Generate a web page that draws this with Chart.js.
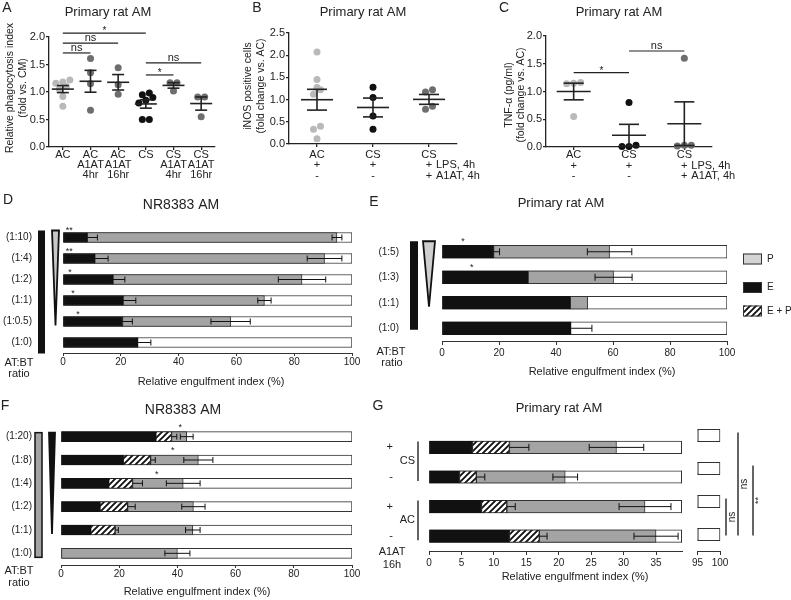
<!DOCTYPE html>
<html>
<head>
<meta charset="utf-8">
<title>A1AT and alveolar macrophage efferocytosis</title>
<script src="https://cdn.jsdelivr.net/npm/chart.js@4.4.1/dist/chart.umd.min.js"></script>
<style>
  body { margin: 0; background: #fff; }
  #fig { position: relative; width: 791px; height: 600px; overflow: hidden; background: #fff; }
  #fig canvas { position: absolute; }
</style>
</head>
<body>
<div id="fig"></div>
<script>
// ---------- A: relative phagocytosis index (primary rat AM) ----------
const groupsA = [['AC'], ['AC', 'A1AT', '4hr'], ['AC', 'A1AT', '16hr'], ['CS'], ['CS', 'A1AT', '4hr'], ['CS', 'A1AT', '16hr']];
const pointsA = [
  [1.22, 1.18, 1.16, 1.10, 1.05, 0.92, 0.74],
  [1.61, 1.35, 1.15, 0.67],
  [1.44, 1.13, 0.96],
  [0.98, 0.95, 0.90, 0.85, 0.80, 0.50, 0.50],
  [1.17, 1.17, 1.02],
  [0.91, 0.91, 0.55]
];
const colorsA = ['#b9b9b9', '#6e6e6e', '#6e6e6e', '#111', '#6e6e6e', '#6e6e6e'];
const ticksA = [0, 0.5, 1, 1.5, 2];
const sigA = [[1, 4, 2.07, '*'], [1, 3, 1.89, 'ns'], [1, 2, 1.71, 'ns'], [4, 6, 1.53, 'ns'], [4, 5, 1.31, '*']];

// ---------- B: iNOS positive cells ----------
const groupsBC = [['AC', '+', '-'], ['CS', '+', '-'], ['CS', '+', '+']];
const rowNamesBC = ['LPS, 4h', 'A1AT, 4h'];
const colorsBC = ['#b9b9b9', '#111', '#6e6e6e'];
const pointsB = [[2.07, 1.45, 1.27, 1.22, 1.12, 0.40, 0.33, 0.12], [1.28, 1.05, 0.63, 0.33], [1.22, 1.17, 0.85, 0.78]];
const ticksB = [0, 0.5, 1, 1.5, 2, 2.5];

// ---------- C: TNF-a ----------
const pointsC = [[1.16, 1.15, 1.14, 0.55], [0.80, 0.03, 0.01, 0.01], [1.60, 0.03, 0.02, 0.03]];
const sigC = [[1, 2, 1.34, '*'], [2, 3, 1.73, 'ns']];

// ---------- engulfment panels ----------
const ticksPct = [0, 20, 40, 60, 80, 100];
const FULL = 100;

// D: NR8383, E = engulfed, tot = E + P
const ratiosD = ['(1:10)', '(1:4)', '(1:2)', '(1:1)', '(1:0.5)', '(1:0)'];
const eD = [8.4, 11.0, 17.3, 20.8, 20.6, 26.0];
const eErrD = [3.5, 4.6, 4.1, 4.4, 3.4, 4.4];
const totD = [94.8, 90.5, 82.7, 69.7, 58.0, null];
const totErrD = [1.7, 6.0, 8.2, 2.3, 6.8, null];
const starsD = ['**', '**', '*', '*', '*', ''];
const starXD = [2.2, 2.2, 2.4, 3.5, 5.2, null];

// E: primary rat AM
const ratiosE = ['(1:5)', '(1:3)', '(1:1)', '(1:0)'];
const eE = [18.1, 30.2, 45.0, 45.3];
const eErrE = [2.1, null, null, 7.3];
const totE = [58.8, 60.2, 51.1, null];
const totErrE = [7.8, 6.5, null, null];
const starsE = ['*', '*', '', ''];
const starXE = [7.4, 10.4, null, null];
const legendE = ['P', 'E', 'E + P'];

// F: NR8383, ep = E + (E+P)
const ratiosF = ['(1:20)', '(1:8)', '(1:4)', '(1:2)', '(1:1)', '(1:0)'];
const eF = [32.6, 21.4, 16.4, 13.4, 10.2, null];
const epF = [38.0, 30.8, 24.6, 22.9, 18.6, null];
const epErrF = [1.8, 1.6, 3.4, 2.6, 1.1, null];
const totF = [43.2, 47.2, 42.0, 45.5, 45.3, 40.0];
const totErrF = [2.2, 5.0, 5.8, 4.0, 2.5, 4.3];
const starsF = ['*', '*', '*', '', '', ''];
const starXF = [41.0, 38.4, 32.9, null, null, null];

// G: primary rat AM, broken axis
const signsG = ['+', '-', '+', '-'];
const groupsG = [['CS', 0, 1], ['AC', 2, 3]];
const eG = [6.7, 4.7, 8.1, 12.4];
const epG = [12.4, 7.3, 12.0, 17.0];
const epErrG = [3.0, 1.3, 1.3, 1.2];
const totG = [28.9, 21.0, 33.3, 35.0];
const totErrG = [4.2, 1.9, 4.0, 3.4];
const ticksG = [0, 5, 10, 15, 20, 25, 30, 35];
const ticksGR = [95, 100];
const breakG = 39;
const sigG = [[3, 4, 'ns'], [1, 4, 'ns'], [2, 4, '**']];

// ---------- helpers ----------
const FONT = "'Liberation Sans', Arial, sans-serif";
const INK = '#222';
const GRAY = '#a4a4a4';
Chart.defaults.font.family = FONT;
Chart.defaults.color = INK;

const fig = document.getElementById('fig');

function addCanvas(x, y, w, h) {
  const c = document.createElement('canvas');
  c.width = w; c.height = h;
  c.style.left = x + 'px'; c.style.top = y + 'px';
  c.style.width = w + 'px'; c.style.height = h + 'px';
  fig.appendChild(c);
  return c;
}

function txt(ctx, s, x, y, size, align = 'center', rot = 0) {
  ctx.save();
  ctx.translate(x, y);
  if (rot) ctx.rotate(rot * Math.PI / 180);
  ctx.font = size + 'px ' + FONT;
  ctx.fillStyle = INK;
  ctx.textAlign = align;
  ctx.textBaseline = 'middle';
  ctx.fillText(s, 0, 0);
  ctx.restore();
}

function seg(ctx, x0, y0, x1, y1) {
  ctx.beginPath(); ctx.moveTo(x0, y0); ctx.lineTo(x1, y1); ctx.stroke();
}

function wedge(ctx, x0, x1, top, tip, fill) {
  ctx.beginPath();
  ctx.moveTo(x0, top); ctx.lineTo(x1, top); ctx.lineTo((x0 + x1) / 2, tip); ctx.closePath();
  ctx.fillStyle = fill; ctx.fill();
  ctx.lineWidth = 1.8; ctx.strokeStyle = '#111'; ctx.stroke();
}

function hatchPattern() {
  const c = document.createElement('canvas');
  c.width = 6; c.height = 6;
  const g = c.getContext('2d');
  g.fillStyle = '#fff'; g.fillRect(0, 0, 6, 6);
  g.strokeStyle = '#111'; g.lineWidth = 1.9;
  g.beginPath();
  g.moveTo(-1, 7); g.lineTo(7, -1);
  g.moveTo(-4, 4); g.lineTo(4, -4);
  g.moveTo(2, 10); g.lineTo(10, 2);
  g.stroke();
  return g.createPattern(c, 'repeat');
}
const HATCH = hatchPattern();

const mean = a => a.reduce((s, v) => s + v, 0) / a.length;
const sem = a => {
  const m = mean(a);
  return Math.sqrt(a.reduce((s, v) => s + (v - m) ** 2, 0) / (a.length - 1) / a.length);
};

// spread dots of one group sideways so close values don't hide each other
function swarm(vals, c, pxX, pxY) {
  const d = 7;
  const rows = [];
  vals.slice().sort((a, b) => a - b).forEach(v => {
    const row = rows[rows.length - 1];
    if (row && (v - row[0]) * pxY < d * 0.8) row.push(v); else rows.push([v]);
  });
  const out = [];
  rows.forEach(row => row.forEach((v, k) => out.push({x: c + (k - (row.length - 1) / 2) * d / pxX, y: v})));
  return out;
}

function textLayer(ox, oy, items, drawPage) {
  return {
    id: 'textLayer',
    afterDraw(chart) {
      const ctx = chart.ctx;
      ctx.save();
      ctx.translate(-ox, -oy);
      if (drawPage) drawPage(ctx);
      items.forEach(it => txt(ctx, ...it));
      ctx.restore();
    }
  };
}

// dot plot with mean +/- SEM
function dotPanel(p) {
  const [bx, by, bw, bh] = p.box;
  const [l, t, r, b] = p.area;
  const n = p.points.length;
  const pxX = (r - l) / n, pxY = (b - t) / p.yMax;
  const cv = addCanvas(bx, by, bw, bh);
  const stats = {
    id: 'meanSem',
    afterDatasetsDraw(chart) {
      const {ctx, scales: {x, y}} = chart;
      ctx.save();
      ctx.strokeStyle = INK; ctx.lineWidth = 1.6;
      p.points.forEach((vals, i) => {
        const cx = x.getPixelForValue(i + 1);
        const m = mean(vals), se = sem(vals);
        const ym = y.getPixelForValue(m), y0 = y.getPixelForValue(m - se), y1 = y.getPixelForValue(m + se);
        seg(ctx, cx - p.meanHalf, ym, cx + p.meanHalf, ym);
        seg(ctx, cx, y0, cx, y1);
        seg(ctx, cx - p.capHalf, y0, cx + p.capHalf, y0);
        seg(ctx, cx - p.capHalf, y1, cx + p.capHalf, y1);
      });
      ctx.lineWidth = 1.2;
      (p.sig || []).forEach(([a, c, v, s]) => {
        const x0 = x.getPixelForValue(a), x1 = x.getPixelForValue(c), yy = y.getPixelForValue(v);
        seg(ctx, x0, yy, x1, yy);
        if (s === '*') txt(ctx, s, (x0 + x1) / 2, yy - 1.5, 10);
        else txt(ctx, s, (x0 + x1) / 2, yy - 5, 11);
      });
      if (p.rowNames) {
        const xl = x.getPixelForValue(n) + 7;
        p.rowNames.forEach((s, k) => txt(ctx, s, xl, x.top + 3 + p.tickPad + p.lh * (k + 1.5), 11, 'left'));
      }
      ctx.restore();
    }
  };
  new Chart(cv, {
    type: 'scatter',
    data: {
      datasets: p.points.map((vals, i) => ({
        data: swarm(vals, i + 1, pxX, pxY),
        backgroundColor: p.colors[i], borderWidth: 0, pointRadius: 3.5, pointHoverRadius: 3.5, clip: false
      }))
    },
    options: {
      responsive: false, animation: false, events: [],
      layout: {padding: {left: 0, top: t - by, right: bx + bw - r, bottom: 0}},
      plugins: {legend: {display: false}, tooltip: {enabled: false}},
      scales: {
        x: {
          type: 'linear', min: 0.5, max: n + 0.5,
          afterBuildTicks: s => { s.ticks = p.groups.map((g, i) => ({value: i + 1})); },
          ticks: {callback: v => p.groups[v - 1], font: {size: 11, lineHeight: p.lh / 11}, padding: p.tickPad,
                  maxRotation: 0, minRotation: 0, autoSkip: false, color: INK},
          grid: {drawOnChartArea: false, tickLength: 3, color: INK, lineWidth: 1.3},
          border: {color: INK, width: 1.3},
          afterFit: s => { s.height = by + bh - b; }
        },
        y: {
          min: 0, max: p.yMax,
          afterBuildTicks: s => { s.ticks = p.yTicks.map(v => ({value: v})); },
          ticks: {callback: v => v.toFixed(1), font: {size: 11}, padding: 1, color: INK},
          grid: {drawOnChartArea: false, tickLength: 3, color: INK, lineWidth: 1.3},
          border: {color: INK, width: 1.3},
          afterFit: s => { s.width = l - bx; }
        }
      }
    },
    plugins: [stats, textLayer(bx, by, p.texts)]
  });
}

// horizontal stacked segments drawn as floating bars over a white 100 % frame
function layers(labels, e, ep, tot, frameClip) {
  const ds = [{data: labels.map(() => FULL), backgroundColor: '#fff', borderColor: '#333', order: 4}];
  if (frameClip) ds[0].clip = frameClip;
  ds.push({data: tot.map((v, i) => v == null ? null : [(ep ? ep[i] : e[i]) ?? 0, v]),
           backgroundColor: GRAY, borderColor: '#333', order: 3});
  if (ep) ds.push({data: ep.map((v, i) => v == null ? null : [e[i], v]),
                   backgroundColor: HATCH, borderColor: '#222', order: 2});
  ds.push({data: e, backgroundColor: '#111', borderColor: '#111', order: 1});
  return ds;
}

function barPanel(p) {
  const [bx, by, bw, bh] = p.box;
  const [l, t, r, b] = p.area;
  const cv = addCanvas(bx, by, bw, bh);
  const yW = p.hideY ? 0 : l - bx;
  const deco = {
    id: 'deco',
    afterDatasetsDraw(chart) {
      const {ctx, scales: {x, y}} = chart;
      ctx.save();
      ctx.strokeStyle = '#111'; ctx.lineWidth = 1;
      (p.errs || []).forEach(([vals, errs, two]) => vals.forEach((v, i) => {
        const e = errs[i];
        if (v == null || e == null) return;
        const yy = y.getPixelForValue(i);
        const x0 = x.getPixelForValue(two ? v - e : v), x1 = x.getPixelForValue(v + e);
        seg(ctx, x0, yy, x1, yy);
        seg(ctx, x1, yy - p.cap, x1, yy + p.cap);
        if (two) seg(ctx, x0, yy - p.cap, x0, yy + p.cap);
      }));
      if (p.stars) p.stars[0].forEach((s, i) => {
        if (s) txt(ctx, s, x.getPixelForValue(p.stars[1][i]), y.getPixelForValue(i) + p.stars[2], 9);
      });
      if (p.draw) p.draw(chart, ctx);
      ctx.restore();
    }
  };
  new Chart(cv, {
    type: 'bar',
    data: {labels: p.labels, datasets: p.datasets},
    options: {
      indexAxis: 'y', responsive: false, animation: false, events: [],
      layout: {padding: {left: l - bx - yW, top: t - by, right: bx + bw - r, bottom: 0}},
      datasets: {bar: {grouped: false, barThickness: p.barH, borderSkipped: false, borderWidth: 1}},
      plugins: {legend: {display: false}, tooltip: {enabled: false}},
      scales: {
        y: {
          type: 'category', grid: {display: false, drawTicks: false}, border: {display: false},
          ticks: {display: !p.hideY, padding: p.yPad || 0, font: {size: p.yFont || 10}, color: INK},
          afterFit: s => { s.width = yW; }
        },
        x: {
          type: 'linear', min: p.xMin, max: p.xMax,
          afterBuildTicks: s => { s.ticks = p.xTicks.map(v => ({value: v})); },
          ticks: {font: {size: 10}, padding: p.tickPad, maxRotation: 0, autoSkip: false, color: INK},
          grid: {drawOnChartArea: false, tickLength: p.tickLen, color: '#333'},
          border: {color: '#333'},
          afterFit: s => { s.height = by + bh - b; }
        }
      }
    },
    plugins: [deco, textLayer(bx, by, p.texts || [], p.drawPage)]
  });
}

// ---------- panels A-C ----------
dotPanel({
  box: [0, 0, 222, 190], area: [49, 37, 215, 147],
  groups: groupsA, points: pointsA, colors: colorsA, yMax: 2, yTicks: ticksA, sig: sigA,
  meanHalf: 11, capHalf: 6, lh: 10, tickPad: 0,
  texts: [['A', 7, 8, 14], ['Primary rat AM', 108, 12, 13],
          ['Relative phagocytosis index', 10, 88, 10.5, 'center', -90], ['(fold vs. CM)', 23, 88, 10.5, 'center', -90]]
});

dotPanel({
  box: [240, 0, 250, 190], area: [289, 33, 457, 144],
  groups: groupsBC, points: pointsB, colors: colorsBC, yMax: 2.5, yTicks: ticksB,
  meanHalf: 16, capHalf: 10, lh: 10.5, tickPad: 2.7, rowNames: rowNamesBC,
  texts: [['B', 257, 8, 14], ['Primary rat AM', 363, 12, 13],
          ['iNOS positive cells', 248, 86, 10.5, 'center', -90], ['(fold change vs. AC)', 261, 86, 10.5, 'center', -90]]
});

dotPanel({
  box: [497, 0, 263, 190], area: [546, 36, 712, 147],
  groups: groupsBC, points: pointsC, colors: colorsBC, yMax: 2, yTicks: ticksA, sig: sigC,
  meanHalf: 17, capHalf: 10, lh: 10.5, tickPad: 0, rowNames: rowNamesBC,
  texts: [['C', 504, 8, 14], ['Primary rat AM', 619, 12, 13],
          ['TNF-\u03b1 (pg/ml)', 509, 95, 10.5, 'center', -90], ['(fold change vs. AC)', 521, 95, 10.5, 'center', -90]]
});

// ---------- panel D ----------
barPanel({
  box: [0, 190, 365, 200], area: [63, 217, 352, 359],
  labels: ratiosD, barH: 10, xMin: 0, xMax: 100, xTicks: ticksPct, yPad: 31, tickLen: 3, tickPad: 0, cap: 3,
  datasets: layers(ratiosD, eD, null, totD),
  errs: [[eD, eErrD, false], [totD, totErrD, true]],
  stars: [starsD, starXD, -7],
  texts: [['D', 8, 200, 14], ['NR8383 AM', 181, 205, 14], ['Relative engulfment index (%)', 211, 382, 11],
          ['AT:BT', 19, 363, 11], ['ratio', 19, 374, 11]],
  draw(chart, ctx) {
    const {chartArea: a, scales: {y}} = chart;
    const top = y.getPixelForValue(0) - 7, bot = y.getPixelForValue(5) + 11, tip = y.getPixelForValue(4) + 4;
    ctx.fillStyle = '#111';
    ctx.fillRect(a.left - 25, top, 7, bot - top);
    wedge(ctx, a.left - 11, a.left - 4, top, tip, '#c8c8c8');
  }
});

// ---------- panel E ----------
barPanel({
  box: [360, 190, 431, 200], area: [442, 217, 727, 348],
  labels: ratiosE, barH: 13, xMin: 0, xMax: 100, xTicks: ticksPct, yPad: 43, tickLen: 4, tickPad: 2, cap: 3.5,
  datasets: layers(ratiosE, eE, null, totE),
  errs: [[eE, eErrE, false], [totE, totErrE, true]],
  stars: [starsE, starXE, -10],
  texts: [['E', 374, 202, 14], ['Primary rat AM', 561, 203, 13], ['Relative engulfment index (%)', 602, 372, 11],
          ['AT:BT', 391, 352, 11], ['ratio', 392, 363, 11],
          [legendE[0], 767, 259, 10, 'left'], [legendE[1], 767, 287.5, 10, 'left'], [legendE[2], 767, 311, 10, 'left']],
  draw(chart, ctx) {
    const {chartArea: a, scales: {y}} = chart;
    const top = y.getPixelForValue(0) - 10.5, bot = y.getPixelForValue(3) + 1.5, tip = y.getPixelForValue(2) + 4;
    ctx.fillStyle = '#111';
    ctx.fillRect(a.left - 32, top, 8, bot - top);
    wedge(ctx, a.left - 19, a.left - 7, top, tip, '#cfcfcf');
  },
  drawPage(ctx) {
    const fills = ['#d4d4d4', '#111', HATCH];
    [259, 287.5, 311].forEach((cy, k) => {
      ctx.fillStyle = fills[k];
      ctx.fillRect(743, cy - 5.5, 19, 11);
      ctx.strokeStyle = '#333'; ctx.lineWidth = 1;
      ctx.strokeRect(743.5, cy - 5, 18, 10);
    });
  }
});

// ---------- panel F ----------
barPanel({
  box: [0, 390, 365, 210], area: [61, 425, 352, 570],
  labels: ratiosF, barH: 10, xMin: 0, xMax: 100, xTicks: ticksPct, yPad: 29, tickLen: 3, tickPad: 0, cap: 3,
  datasets: layers(ratiosF, eF, epF, totF),
  errs: [[epF, epErrF, false], [totF, totErrF, true]],
  stars: [starsF, starXF, -9],
  texts: [['F', 5, 406, 14], ['NR8383 AM', 183, 410, 14], ['Relative engulfment index (%)', 197, 592, 11],
          ['AT:BT', 19, 571, 11], ['ratio', 19, 583, 11]],
  draw(chart, ctx) {
    const {chartArea: a, scales: {y}} = chart;
    const top = y.getPixelForValue(0) - 4, bot = y.getPixelForValue(5) + 4, tip = y.getPixelForValue(4) + 4;
    ctx.fillStyle = GRAY; ctx.strokeStyle = '#111'; ctx.lineWidth = 1.5;
    ctx.fillRect(a.left - 26, top, 7, bot - top);
    ctx.strokeRect(a.left - 26, top, 7, bot - top);
    wedge(ctx, a.left - 12, a.left - 6, top, tip, '#111');
  }
});

// ---------- panel G (broken x axis: two charts) ----------
barPanel({
  box: [360, 390, 326, 210], area: [429, 419, 682, 551],
  labels: signsG, barH: 12.5, xMin: 0, xMax: breakG, xTicks: ticksG, yPad: 36, yFont: 11, tickLen: 4, tickPad: 2, cap: 3.5,
  datasets: layers(signsG, eG, epG, totG, {left: false, top: false, right: 0, bottom: false}),
  errs: [[epG, epErrG, false], [totG, totErrG, true]],
  texts: [['G', 378, 406, 14], ['Primary rat AM', 559, 408, 13], ['Relative engulfment index (%)', 575, 577, 11],
          ['A1AT', 392, 552, 11], ['16h', 392, 565, 11]],
  draw(chart, ctx) {
    const {chartArea: a, scales: {y}} = chart;
    ctx.strokeStyle = '#333'; ctx.lineWidth = 1;
    chart.getDatasetMeta(0).data.forEach(el => seg(ctx, a.right - 0.5, el.y - el.height / 2, a.right - 0.5, el.y + el.height / 2));
    ctx.strokeStyle = '#111'; ctx.lineWidth = 1.3;
    groupsG.forEach(([name, r0, r1]) => {
      const y0 = y.getPixelForValue(r0) - 6, y1 = y.getPixelForValue(r1) + 4, xx = a.left - 11;
      seg(ctx, xx, y0, xx, y1);
      txt(ctx, name, xx - 3, (y0 + y1) / 2, 11, 'right');
    });
  }
});

barPanel({
  box: [690, 390, 101, 210], area: [697, 419, 720, 551], hideY: true,
  labels: signsG, barH: 12.5, xMin: 95, xMax: 100, xTicks: ticksGR, tickLen: 4, tickPad: 2, cap: 3.5,
  datasets: [{data: signsG.map(() => FULL), backgroundColor: '#fff', borderColor: '#333',
              clip: {left: 0, top: false, right: 2, bottom: false}}],
  draw(chart, ctx) {
    const {chartArea: a, scales: {y}} = chart;
    ctx.strokeStyle = '#333'; ctx.lineWidth = 1;
    chart.getDatasetMeta(0).data.forEach(el => seg(ctx, a.left + 0.5, el.y - el.height / 2, a.left + 0.5, el.y + el.height / 2));
    ctx.strokeStyle = '#111'; ctx.lineWidth = 1.3;
    const offs = [6, 18, 33];
    sigG.forEach(([r0, r1, s], k) => {
      const xx = a.right + offs[k];
      const y0 = y.getPixelForValue(r0 - 1) - 3, y1 = y.getPixelForValue(r1 - 1) + 1;
      seg(ctx, xx, y0, xx, y1);
      txt(ctx, s, xx + 6, (y0 + y1) / 2, s === 'ns' ? 10 : 9, 'center', -90);
    });
  }
});
</script>
</body>
</html>
